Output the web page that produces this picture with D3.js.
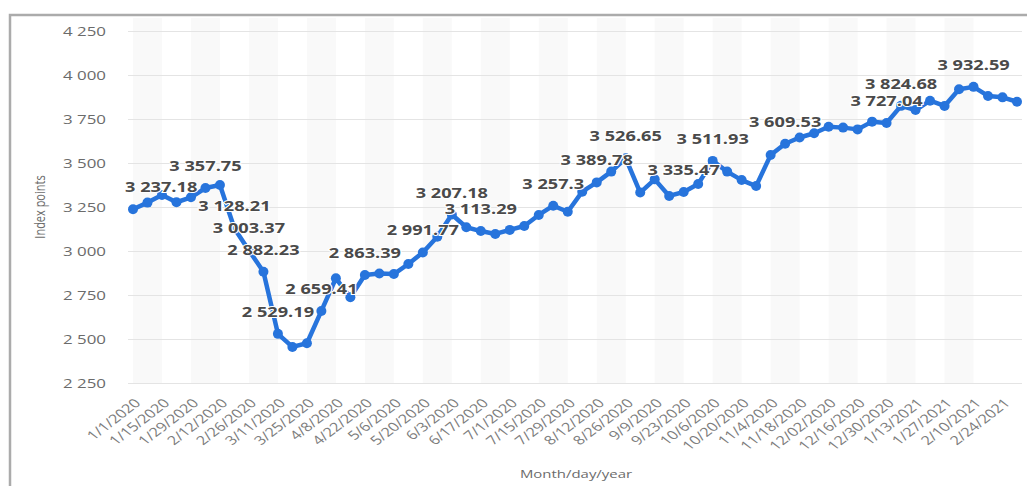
<!DOCTYPE html>
<html>
<head>
<meta charset="utf-8">
<script src="https://cdn.jsdelivr.net/npm/d3@7"></script>
<style>
  body { margin: 0; background: #fff; }
  svg { display: block; font-family: "Open Sans", sans-serif; }
</style>
</head>
<body>
<div id="chart"></div>
<script>
// weekly dates (categories)
const dates = [
  "1/1/2020", "1/8/2020", "1/15/2020", "1/22/2020", "1/29/2020", "2/5/2020", "2/12/2020", "2/19/2020",
  "2/26/2020", "3/4/2020", "3/11/2020", "3/18/2020", "3/25/2020", "4/1/2020", "4/8/2020", "4/15/2020",
  "4/22/2020", "4/29/2020", "5/6/2020", "5/13/2020", "5/20/2020", "5/27/2020", "6/3/2020", "6/10/2020",
  "6/17/2020", "6/24/2020", "7/1/2020", "7/8/2020", "7/15/2020", "7/22/2020", "7/29/2020", "8/5/2020",
  "8/12/2020", "8/19/2020", "8/26/2020", "9/2/2020", "9/9/2020", "9/16/2020", "9/23/2020", "9/30/2020",
  "10/6/2020", "10/13/2020", "10/20/2020", "10/28/2020", "11/4/2020", "11/11/2020", "11/18/2020", "11/25/2020",
  "12/02/2020", "12/9/2020", "12/16/2020", "12/23/2020", "12/30/2020", "1/6/2021", "1/13/2021", "1/20/2021",
  "1/27/2021", "2/3/2021", "2/10/2021", "2/17/2021", "2/24/2021", "3/3/2021"
];

// index points
const values = [
  3237.18, 3275, 3318, 3277, 3305, 3357.75, 3375, 3128.21,
  3003.37, 2882.23, 2529.19, 2455, 2476, 2659.41, 2845, 2737,
  2863.39, 2872, 2869, 2926, 2991.77, 3081, 3207.18, 3135,
  3113.29, 3097, 3120, 3142, 3205, 3257.3, 3223, 3337,
  3389.78, 3451, 3526.65, 3332, 3407, 3313, 3335.47, 3381,
  3511.93, 3451, 3403, 3369, 3545, 3609.53, 3645, 3669,
  3706, 3701, 3691, 3735, 3727.04, 3824.68, 3801, 3854,
  3824, 3919, 3932.59, 3881, 3873, 3848
];

// which points carry a value label
const labelledDates = [
  "1/1/2020", "2/5/2020", "2/19/2020", "2/26/2020", "3/4/2020", "3/11/2020", "4/1/2020", "4/22/2020",
  "5/20/2020", "6/3/2020", "6/17/2020", "7/22/2020", "8/12/2020", "8/26/2020", "9/23/2020", "10/6/2020",
  "11/11/2020", "12/30/2020", "1/6/2021", "2/10/2021"
];

const xTickLabels = dates.filter((d, i) => i % 2 === 0);
const yTicks = [2250, 2500, 2750, 3000, 3250, 3500, 3750, 4000, 4250];

function main() {
  const W = 1027, H = 486;
  const margin = {left: 128, right: 1022, top: 31, bottom: 383};
  const stretch = 1.3;   // the picture is wider than tall

  const svg = d3.select("#chart").append("svg")
    .attr("width", W).attr("height", H);

  // frame
  svg.append("path")
    .attr("d", `M10,${H} L10,15 L${W},15`)
    .attr("fill", "none")
    .attr("stroke", "#ababab")
    .attr("stroke-width", 2.5);

  const x = d3.scalePoint().domain(dates).range([133, 1017]);
  const y = d3.scaleLinear().domain([2250, 4250]).range([margin.bottom, margin.top]);

  const loc = d3.formatLocale({decimal: ".", thousands: " ", grouping: [3], currency: ["", ""]});
  const fmt = loc.format(",");

  // alternating bands
  const bandStarts = dates.filter((d, i) => i % 4 === 0 && i + 2 < dates.length);
  svg.append("g").selectAll("rect")
    .data(bandStarts)
    .join("rect")
    .attr("x", d => x(d))
    .attr("width", d => x(dates[dates.indexOf(d) + 2]) - x(d))
    .attr("y", 18)
    .attr("height", margin.bottom - 18)
    .attr("fill", "#f9f9f9");

  // grid lines
  svg.append("g")
    .attr("transform", `translate(${margin.left},0)`)
    .call(d3.axisLeft(y).tickValues(yTicks).tickSize(-(margin.right - margin.left)).tickFormat(""))
    .call(g => g.select(".domain").remove())
    .call(g => g.selectAll("line").attr("stroke", "#e4e4e4").attr("stroke-width", 1));

  // y axis labels
  svg.append("g")
    .attr("transform", `translate(${margin.left},0)`)
    .call(d3.axisLeft(y).tickValues(yTicks).tickSize(0).tickFormat(fmt))
    .call(g => g.select(".domain").remove())
    .call(g => g.selectAll("text")
      .attr("x", 0)
      .attr("dy", "0.35em")
      .attr("transform", `translate(-22,0) scale(${stretch},1)`)
      .attr("fill", "#6b6b6b")
      .attr("font-size", 13)
      .attr("font-family", "Open Sans"));

  // x axis labels
  svg.append("g")
    .attr("transform", `translate(0,${margin.bottom})`)
    .call(d3.axisBottom(x).tickValues(xTickLabels).tickSize(0))
    .call(g => g.select(".domain").remove())
    .call(g => g.selectAll("text")
      .attr("x", 0).attr("y", 0).attr("dy", 0)
      .attr("text-anchor", "end")
      .attr("transform", `translate(8,21) scale(${stretch},1) rotate(-45)`)
      .attr("fill", "#7c7c7c")
      .attr("font-size", 12.5)
      .attr("font-family", "Open Sans"));

  // axis titles
  svg.append("text")
    .attr("transform", `translate(45,207) scale(${stretch},1) rotate(-90)`)
    .attr("text-anchor", "middle")
    .attr("fill", "#6b6b6b")
    .attr("font-size", 11)
    .text("Index points");

  svg.append("text")
    .attr("transform", `translate(576,478) scale(${stretch},1)`)
    .attr("text-anchor", "middle")
    .attr("fill", "#6b6b6b")
    .attr("font-size", 11.5)
    .text("Month/day/year");

  // line and markers
  const data = dates.map((d, i) => ({date: d, value: values[i]}));
  const blue = "#2774dc";

  svg.append("path")
    .datum(data)
    .attr("fill", "none")
    .attr("stroke", blue)
    .attr("stroke-width", 4.5)
    .attr("stroke-linejoin", "round")
    .attr("d", d3.line().x(d => x(d.date)).y(d => y(d.value)));

  svg.append("g").selectAll("circle")
    .data(data)
    .join("circle")
    .attr("cx", d => x(d.date))
    .attr("cy", d => y(d.value))
    .attr("r", 5)
    .attr("fill", blue);

  // value labels
  const labels = svg.append("g").selectAll("text")
    .data(data.filter(d => labelledDates.includes(d.date)))
    .join("text")
    .attr("text-anchor", "middle")
    .attr("font-size", 14)
    .attr("font-weight", "bold")
    .attr("fill", "#4a4a4a")
    .attr("stroke", "#fff")
    .attr("stroke-width", 2)
    .attr("paint-order", "stroke")
    .text(d => fmt(d.value));

  labels.attr("transform", function (d) {
    const w = this.getComputedTextLength() * stretch;
    let cx = x(d.date);
    if (cx - w / 2 < margin.left - 3) cx = margin.left - 3 + w / 2;
    return `translate(${cx},${y(d.value) - 17}) scale(${stretch},1)`;
  });
}

main();
</script>
</body>
</html>
